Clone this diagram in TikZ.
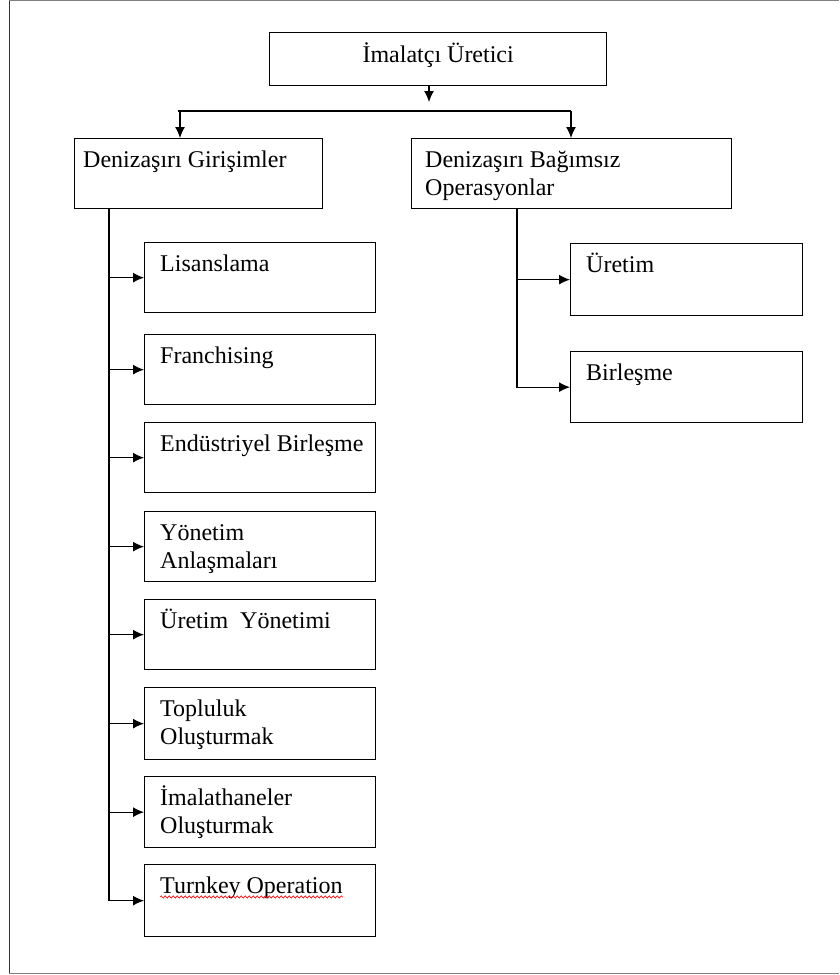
\documentclass[tikz,border=0pt]{standalone}
\usepackage{fontspec}
\setmainfont{Liberation Serif}
\usetikzlibrary{arrows.meta,decorations.pathmorphing}

\begin{document}
\begin{tikzpicture}[x=1pt,y=-1pt,
  kutu/.style={draw, line width=1.3pt, anchor=north west, inner sep=0pt},
  yazi/.style={font=\fontsize{24}{28}\selectfont, align=left, inner sep=0pt, anchor=base west, yshift=-29pt},
  ic/.style={yazi, xshift=16pt},
  ic2/.style={ic, yshift=-28pt},
  baslik/.style={font=\fontsize{24}{28}\selectfont, inner sep=0pt, anchor=base, yshift=-30pt},
  ok/.style={line width=1.2pt, -{Latex[length=11pt,width=10pt]}},
  hat/.style={line width=1.2pt}]
\useasboundingbox (0,0) rectangle (839,975);
% cerceve
\draw[line width=1.5pt, black!80] (9.5,0) -- (9.5,974);
\draw[gray, line width=1pt] (9,0.5) -- (839,0.5);
\draw[gray, line width=1pt] (9,973.5) -- (839,973.5);
% ust kutu ve iki ana dal
\node[kutu, minimum width=337pt, minimum height=53pt, label={[baslik]north:İmalatçı Üretici}] (ust) at (269,32) {};
\node[kutu, minimum width=248pt, minimum height=70pt, label={[yazi, xshift=9pt]north west:Denizaşırı Girişimler}] (girisim) at (74,138) {};
\node[kutu, minimum width=320pt, minimum height=70pt, label={[yazi, xshift=14pt, yshift=-28pt]north west:{Denizaşırı Bağımsız\\Operasyonlar}}] (bagimsiz) at (411,138) {};
\coordinate (ustok) at (429,102);
\coordinate (hatsol) at (180,111);
\coordinate (hatsag) at (571,111);
\draw[ok] (ust.south -| ustok) -- (ustok);
\draw[hat] ([xshift=-2pt]hatsol) -- (hatsag);
\draw[ok] (hatsol) -- (hatsol |- girisim.north);
\draw[ok] (hatsag) -- (hatsag |- bagimsiz.north);
% girisimler
\node[kutu, minimum width=231pt, minimum height=70pt, label={[ic]north west:Lisanslama}] (lisans) at (144,242) {};
\node[kutu, minimum width=231pt, minimum height=70pt, label={[ic]north west:Franchising}] (franchise) at (144,334) {};
\node[kutu, minimum width=231pt, minimum height=70pt, label={[ic]north west:Endüstriyel Birleşme}] (endustri) at (144,422) {};
\node[kutu, minimum width=231pt, minimum height=70pt, label={[ic2]north west:{Yönetim\\Anlaşmaları}}] (yonetim) at (144,511) {};
\node[kutu, minimum width=231pt, minimum height=70pt, label={[ic]north west:Üretim~~Yönetimi}] (uretimy) at (144,599) {};
\node[kutu, minimum width=231pt, minimum height=72pt, label={[ic2]north west:{Topluluk\\Oluşturmak}}] (topluluk) at (144,687) {};
\node[kutu, minimum width=231pt, minimum height=71pt, label={[ic2]north west:{İmalathaneler\\Oluşturmak}}] (imalathane) at (144,776) {};
\node[kutu, minimum width=231pt, minimum height=72pt, label={[ic, name=tkyazi]north west:Turnkey Operation}] (turnkey) at (144,864) {};
\coordinate (gkok) at ([xshift=35pt]girisim.south west);
\draw[ok] (gkok) |- (lisans.west);
\draw[ok] (gkok) |- (franchise.west);
\draw[ok] (gkok) |- (endustri.west);
\draw[ok] (gkok) |- (yonetim.west);
\draw[ok] (gkok) |- (uretimy.west);
\draw[ok] (gkok) |- (topluluk.west);
\draw[ok] (gkok) |- (imalathane.west);
\draw[ok] (gkok) |- (turnkey.west);
\draw[red, line width=0.6pt, decorate, decoration={snake, amplitude=1.2pt, segment length=4pt}] ([yshift=-4pt]tkyazi.base west) -- ([yshift=-4pt]tkyazi.base east);
% bagimsiz operasyonlar
\node[kutu, minimum width=232pt, minimum height=72pt, label={[ic]north west:Üretim}] (uretim) at (570,243) {};
\node[kutu, minimum width=232pt, minimum height=71pt, label={[ic]north west:Birleşme}] (birlesme) at (570,351) {};
\coordinate (bkok) at ([xshift=106pt]bagimsiz.south west);
\draw[ok] (bkok) |- (uretim.west);
\draw[ok] (bkok) |- (birlesme.west);
\end{tikzpicture}
\end{document}
